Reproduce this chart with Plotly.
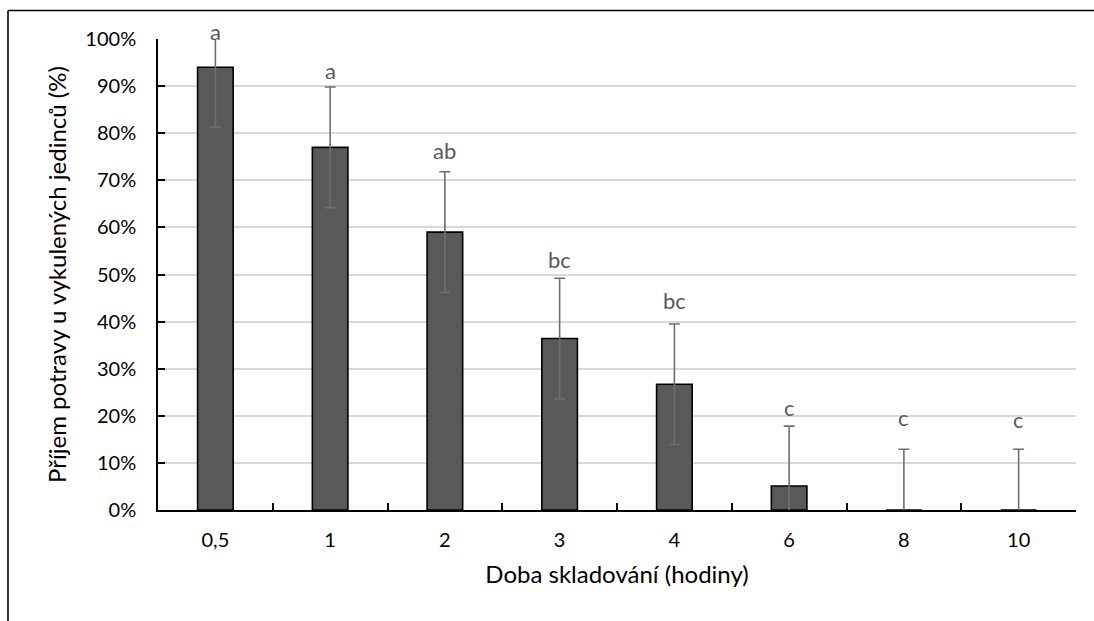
import plotly.graph_objects as go

categories = ["0,5", "1", "2", "3", "4", "6", "8", "10"]
values = [94.0, 77.0, 59.0, 36.4, 26.7, 5.1, 0.0, 0.0]
errors = [12.7, 12.8, 12.8, 12.8, 12.8, 12.7, 12.9, 12.9]
letters = ["a", "a", "ab", "bc", "bc", "c", "c", "c"]
letter_y = [101.6, 93.3, 76.3, 53.2, 44.5, 21.8, 19.7, 19.3]
y_ticks = [0, 10, 20, 30, 40, 50, 60, 70, 80, 90, 100]

FONT = "Lato"
W, H = 1094, 621
L, R, T, B = 158, 18, 38.5, 111
pw = W - L - R
ph = H - T - B

fig = go.Figure()
fig.add_trace(go.Bar(
    x=categories, y=values,
    marker=dict(color="#595959", line=dict(color="black", width=1.6)),
    error_y=dict(type="data", array=errors, visible=True, color="#6f6f6f",
                 thickness=1.6, width=5.5),
    width=0.31,
))

for i, (t, ly) in enumerate(zip(letters, letter_y)):
    fig.add_annotation(x=i, xref="x", y=ly / 100.0, yref="paper", text=t, showarrow=False,
                       font=dict(family=FONT, size=22, color="#595959"),
                       yanchor="middle", xanchor="center")

bx = (8 - L) / pw
by = 1 + (T - 10) / ph
fig.add_shape(type="line", xref="paper", yref="paper", x0=bx, x1=bx, y0=-1, y1=by,
              line=dict(color="black", width=1.6))
fig.add_shape(type="line", xref="paper", yref="paper", x0=bx, x1=1.2, y0=by, y1=by,
              line=dict(color="black", width=1.6))

fig.update_layout(
    width=W, height=H,
    margin=dict(l=L, r=R, t=T, b=B),
    paper_bgcolor="white", plot_bgcolor="white",
    showlegend=False,
    font=dict(family=FONT, size=20, color="black"),
    xaxis=dict(
        type="category", range=[-0.5, 7.5],
        showline=True, linecolor="black", linewidth=1.6,
        ticks="inside", tickson="boundaries", ticklen=7, tickcolor="black", tickwidth=1.6,
        showgrid=False, tickfont=dict(size=20, color="black"),
        title=dict(text="Doba skladování (hodiny)", font=dict(size=24), standoff=16),
        ticklabelstandoff=11,
    ),
    yaxis=dict(
        range=[0, 100], tickvals=y_ticks, ticktext=[f"{v}%" for v in y_ticks],
        showline=True, linecolor="black", linewidth=1.6,
        ticks="inside", ticklen=7, tickcolor="black", tickwidth=1.6,
        showgrid=True, gridcolor="#d9d9d9", gridwidth=1.5,
        zeroline=False, tickfont=dict(size=20, color="black"),
        ticklabelstandoff=16,
        title=dict(text="Příjem potravy u vykulených jedinců (%)", font=dict(size=24), standoff=12),
    ),
)

fig.write_html("out.html")
